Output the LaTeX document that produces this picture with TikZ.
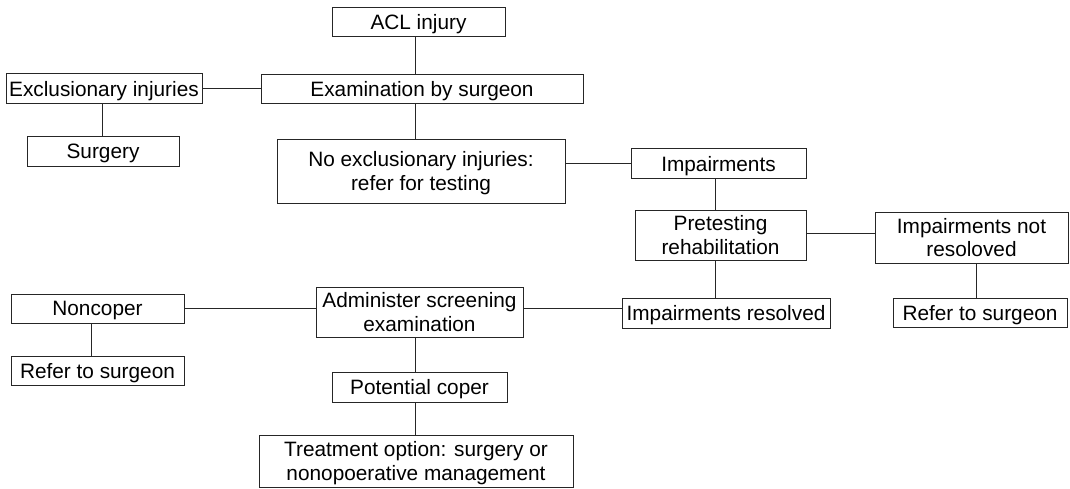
\documentclass[tikz,border=0pt]{standalone}
\usepackage{fontspec}
\setmainfont{Liberation Sans}
\begin{document}
\begin{tikzpicture}[x=1pt,y=-1pt,
  box/.style={draw=black!85, line width=1pt, inner sep=0pt, align=center,
    text depth=0pt, font=\fontsize{20.8}{23.4}\selectfont},
  link/.style={draw=black!85, line width=1pt}]
\useasboundingbox (0,0) rectangle (1070,488);

% boxes
\node[box, minimum width=173, minimum height=29] (acl)   at (418.5,21.5) {ACL injury};
\node[box, minimum width=322, minimum height=29] (exam)  at (422,88.5)   {Examination by surgeon};
\node[box, minimum width=196, minimum height=30] (excl)  at (104,88.5)   {Exclusionary injuries};
\node[box, minimum width=152, minimum height=30] (surg)  at (103,151)    {Surgery};
\node[box, minimum width=288, minimum height=64] (noex)  at (421,171)    {No exclusionary injuries:\\refer for testing};
\node[box, minimum width=175, minimum height=30] (imp)   at (718.5,163.5) {Impairments};
\node[box, minimum width=171, minimum height=50] (pre)   at (720.5,235)  {Pretesting\\rehabilitation};
\node[box, minimum width=193, minimum height=51] (inr)   at (971.5,237.5) {Impairments not\\resoloved};
\node[box, minimum width=174, minimum height=29] (refr)  at (980,312.5)  {Refer to surgeon};
\node[box, minimum width=208, minimum height=30] (ires)  at (726,313)    {Impairments resolved};
\node[box, minimum width=207, minimum height=50] (adm)   at (419.5,312)  {Administer screening\\examination};
\node[box, minimum width=173, minimum height=29] (nonc)  at (97.5,308.5) {Noncoper};
\node[box, minimum width=173, minimum height=29] (refl)  at (97.5,370.5) {Refer to surgeon};
\node[box, minimum width=175, minimum height=30] (pot)   at (419.5,387)  {Potential coper};
\node[box, minimum width=314, minimum height=52] (treat) at (416,461)    {Treatment option: surgery or\\nonopoerative management};

% columns and rows the connectors run along
\coordinate (cmain) at (415.5,0);
\coordinate (cexcl) at (102,0);
\coordinate (cpre)  at (715.5,0);
\coordinate (cinr)  at (976.5,0);
\coordinate (cnonc) at (91,0);
\coordinate (rscr)  at (0,308.5);

% connectors
\draw[link] (acl.south -| cmain) -- (exam.north -| cmain);
\draw[link] (excl.east) -- (exam.west |- excl.east);
\draw[link] (excl.south -| cexcl) -- (surg.north -| cexcl);
\draw[link] (exam.south -| cmain) -- (noex.north -| cmain);
\draw[link] (noex.east |- imp.west) -- (imp.west);
\draw[link] (imp.south -| cpre) -- (pre.north -| cpre);
\draw[link] (pre.east |- 0,233) -- (inr.west |- 0,233);
\draw[link] (inr.south -| cinr) -- (refr.north -| cinr);
\draw[link] (pre.south -| cpre) -- (ires.north -| cpre);
\draw[link] (adm.east |- rscr) -- (ires.west |- rscr);
\draw[link] (nonc.east |- rscr) -- (adm.west |- rscr);
\draw[link] (nonc.south -| cnonc) -- (refl.north -| cnonc);
\draw[link] (adm.south -| cmain) -- (pot.north -| cmain);
\draw[link] (pot.south -| cmain) -- (treat.north -| cmain);
\end{tikzpicture}
\end{document}
